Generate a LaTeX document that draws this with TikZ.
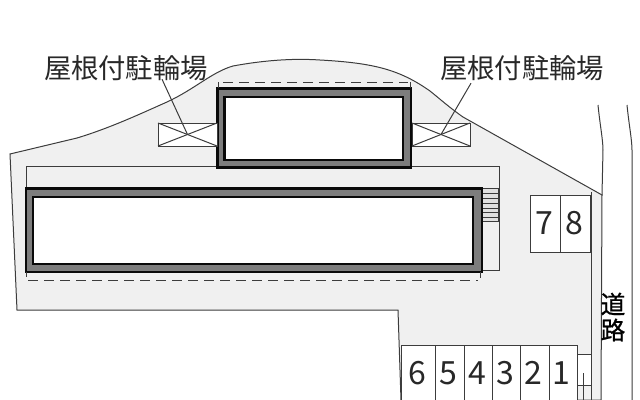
\documentclass[tikz,border=0pt]{standalone}
\usepackage{fontspec}
\setmainfont{Noto Sans CJK JP}
\newfontfamily\roadfont[FakeBold=0.8]{Noto Sans CJK JP}
\tikzset{every picture/.style={line width=0.75pt}}
\tikzset{
  plan line/.style={color={rgb, 255:red, 60; green, 60; blue, 60 }},
  wall band/.style={draw={rgb, 255:red, 10; green, 10; blue, 10 },fill={rgb, 255:red, 125; green, 125; blue, 125 },line width=2pt},
  wall inner/.style={draw={rgb, 255:red, 10; green, 10; blue, 10 },fill=white,line width=2.2pt},
  eave line/.style={plan line,dash pattern=on 7.5pt off 4.5pt},
  stall box/.style={plan line,fill=white},
  stall text/.style={inner sep=0.75pt,font=\fontsize{24}{24}\selectfont,color={rgb, 255:red, 40; green, 40; blue, 40 }},
  shed text/.style={inner sep=0.75pt,font=\fontsize{20.5}{21}\selectfont,color={rgb, 255:red, 40; green, 40; blue, 40 }},
  road text/.style={inner sep=0.75pt,font=\fontsize{18.5}{19}\selectfont\roadfont,color={rgb, 255:red, 0; green, 0; blue, 0 }}
}

\begin{document}
\begin{tikzpicture}[x=0.75pt,y=0.75pt,yscale=-1,xscale=1]
\useasboundingbox (0,0) rectangle (640,400);

%Shape: Lot
\draw [plan line,fill={rgb, 255:red, 240; green, 240; blue, 240 }] (10,154) -- (77,138) .. controls (110,128) and (140,114) .. (167,102) .. controls (195,89) and (212,72) .. (233,66) .. controls (260,61) and (290,58) .. (320,60) .. controls (375,63) and (400,70) .. (430,91) .. controls (440,99) and (450,108) .. (463,117) -- (602,195) -- (601,400) -- (401,400) -- (398,310) -- (17,310) -- cycle ;
%Shape: Road edges
\draw [plan line] (598,105) .. controls (600,125) and (603,140) .. (603,150) -- (602,195) ;
\draw [plan line] (627,105) .. controls (629,125) and (632,140) .. (632,150) -- (632,400) ;
\draw [plan line] (591,192) -- (591,400) ;

%Shape: Terrace
\draw [plan line,fill={rgb, 255:red, 240; green, 240; blue, 240 }] (26,188) -- (26,166) -- (499,166) -- (499,270) -- (482,270) ;
%Shape: Stairs
\draw [plan line,fill={rgb, 255:red, 225; green, 225; blue, 225 }] (482,188) rectangle (498,221) ;
\draw [plan line] (482,193) -- (498,193) ;
\draw [plan line] (482,198) -- (498,198) ;
\draw [plan line] (482,203) -- (498,203) ;
\draw [plan line] (482,208) -- (498,208) ;
\draw [plan line] (482,212) -- (498,212) ;
\draw [plan line] (482,217) -- (498,217) ;

%Shape: Upper building
\draw [wall band] (217.5,88.5) rectangle (411,167.5) ;
\draw [wall inner] (224.5,97) rectangle (403,160) ;
%Shape: Lower building
\draw [wall band] (26,188.5) rectangle (482,272) ;
\draw [wall inner] (33,197) rectangle (473,264) ;

%Straight Lines: eaves
\draw [eave line] (223,82) -- (408,82) ;
\draw [plan line] (218,82) -- (218,88) ;
\draw [plan line] (410,82) -- (410,88) ;
\draw [eave line] (28,280) -- (478,280) ;
\draw [plan line] (26,272) -- (26,277) ;
\draw [plan line] (480,272) -- (480,278) ;

%Shape: Left shed
\draw [stall box] (158,123) rectangle (217,146) ;
\draw [plan line] (158,123) -- (217,146) ;
\draw [plan line] (158,146) -- (217,123) ;
%Shape: Right shed
\draw [stall box] (412,123) rectangle (470,146) ;
\draw [plan line] (412,123) -- (470,146) ;
\draw [plan line] (412,146) -- (470,123) ;

%Shape: Stalls 7 8
\draw [stall box] (530,195) rectangle (560,252) ;
\draw [stall box] (560,195) rectangle (590,252) ;
%Shape: Stalls 6 to 1
\draw [stall box] (401,345) rectangle (435,410) ;
\draw [stall box] (435,345) rectangle (464,410) ;
\draw [stall box] (464,345) rectangle (492,410) ;
\draw [stall box] (492,345) rectangle (520,410) ;
\draw [stall box] (520,345) rectangle (549,410) ;
\draw [stall box] (549,345) rectangle (577,410) ;
%Shape: Small box
\draw [plan line,fill=white] (577,354) rectangle (591,385) ;
\draw [plan line] (583,373) -- (583,400) ;

% Text Node
\draw (126,68) node [shed text] (shedLabelL) {屋根付駐輪場};
% Text Node
\draw (522,68) node [shed text] (shedLabelR) {屋根付駐輪場};
% Text Node
\draw (544,223) node [stall text] (stallSeven) {7};
% Text Node
\draw (574,223) node [stall text] (stallEight) {8};
% Text Node
\draw (417,373) node [stall text] (stallSix) {6};
% Text Node
\draw (448,373) node [stall text] (stallFive) {5};
% Text Node
\draw (477,373) node [stall text] (stallFour) {4};
% Text Node
\draw (505,373) node [stall text] (stallThree) {3};
% Text Node
\draw (533,373) node [stall text] (stallTwo) {2};
% Text Node
\draw (561,373) node [stall text] (stallOne) {1};
% Text Node
\draw (613,304) node [road text] (roadTop) {道};
% Text Node
\draw (613,330) node [road text] (roadBottom) {路};

\coordinate (shedMidL) at (187.5,134.5);
\coordinate (shedMidR) at (441,134.5);
%Straight Lines: leaders
\draw [plan line] (shedLabelL.south) ++(36,-3) -- (shedMidL) ;
\draw [plan line] (shedLabelR.south) ++(-51,1) -- (shedMidR) ;

\end{tikzpicture}
\end{document}
